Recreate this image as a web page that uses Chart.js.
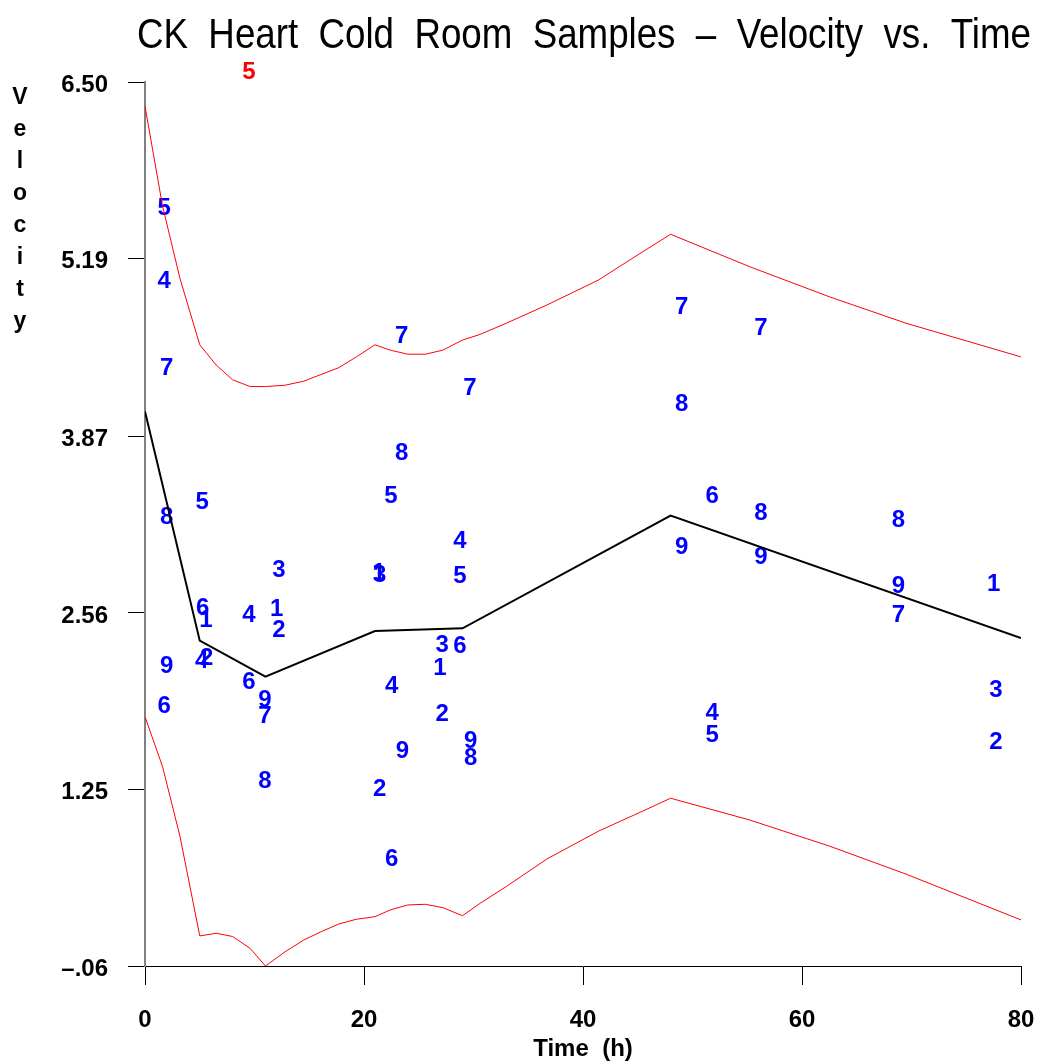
<!DOCTYPE html>
<html>
<head>
<meta charset="utf-8">
<title>CK Heart Cold Room Samples</title>
<script src="https://cdn.jsdelivr.net/npm/chart.js@4.4.1/dist/chart.umd.min.js"></script>
<style>
  html, body { margin: 0; padding: 0; background: #fff; }
  #wrap { width: 1039px; height: 1064px; }
</style>
</head>
<body>
<div id="wrap"><canvas id="velChart" width="1039" height="1064"></canvas></div>
<script>
// individual observations: subject id, sampling time (h), velocity
const subjects = [
  '5', '4', '7', '8', '9', '6',
  '5', '6', '1', '2', '4',
  '4', '6',
  '9', '7', '8',
  '3', '1', '2',
  '1', '3', '2',
  '5', '4', '6',
  '7', '8', '9',
  '3', '1', '2',
  '4', '5', '6',
  '7', '9', '8',
  '7', '8', '9',
  '6', '4', '5',
  '7', '8', '9',
  '8', '9', '7',
  '1', '3', '2'
];
const times = [
  1.74, 1.74, 1.98, 1.98, 1.98, 1.76,
  5.23, 5.26, 5.57, 5.63, 5.18,
  9.5, 9.5,
  10.96, 10.96, 10.96,
  12.24, 12.03, 12.24,
  21.36, 21.42, 21.42,
  22.47, 22.53, 22.53,
  23.44, 23.44, 23.5,
  27.15, 26.94, 27.15,
  28.77, 28.77, 28.77,
  29.68, 29.74, 29.74,
  49.0, 49.0, 49.0,
  51.8, 51.8, 51.8,
  56.26, 56.26, 56.26,
  68.8, 68.8, 68.8,
  77.5, 77.7, 77.7
];
const velocities = [
  5.565, 5.023, 4.375, 3.270, 2.161, 1.864,
  3.378, 2.594, 2.508, 2.224, 2.199,
  2.545, 2.043,
  1.914, 1.790, 1.308,
  2.879, 2.587, 2.428,
  2.856, 2.840, 1.251,
  3.428, 2.013, 0.734,
  4.610, 3.745, 1.531,
  2.322, 2.149, 1.810,
  3.089, 2.829, 2.310,
  4.227, 1.605, 1.481,
  4.824, 4.105, 3.046,
  3.423, 1.813, 1.654,
  4.673, 3.296, 2.969,
  3.248, 2.756, 2.543,
  2.770, 1.984, 1.597
];

// observation outside the limits
const flaggedSubjects = ['5'];
const flaggedTimes = [9.5];
const flaggedVelocities = [6.574];

// mean curve
const meanTimes = [0, 5, 11, 21, 29, 48, 80];
const meanVelocities = [4.055, 2.354, 2.087, 2.426, 2.446, 3.282, 2.374];

// upper / lower limit curves
const bandTimes = [0, 1.6, 3.2, 5, 6.5, 8, 9.6, 11, 12.8, 14.5, 16.1, 17.7, 19.3, 21,
  22.4, 24, 25.6, 27.2, 29, 30.6, 33, 36.7, 41.4, 45.2, 48, 55.2, 62.5, 69.5, 80];
const upperVelocities = [6.32, 5.58, 5.04, 4.55, 4.40, 4.29, 4.24, 4.24, 4.25, 4.28, 4.33, 4.38, 4.46, 4.55,
  4.51, 4.48, 4.48, 4.51, 4.585, 4.627, 4.71, 4.845, 5.03, 5.227, 5.37, 5.13, 4.906, 4.71, 4.46];
const lowerVelocities = [1.79, 1.42, 0.90, 0.163, 0.183, 0.159, 0.071, -0.06, 0.046, 0.133, 0.195, 0.252, 0.287, 0.306,
  0.356, 0.393, 0.398, 0.373, 0.313, 0.405, 0.53, 0.734, 0.94, 1.08, 1.185, 1.024, 0.83, 0.622, 0.282];

const xTicks = [0, 20, 40, 60, 80];
const yTicks = [-0.06, 1.25, 2.56, 3.87, 5.19, 6.50];
const yTickLabels = ['\u2013.06', '1.25', '2.56', '3.87', '5.19', '6.50'];

const FONT = '"Liberation Sans", Arial, Helvetica, sans-serif';
const titleText = 'CK  Heart  Cold  Room  Samples  \u2013  Velocity  vs.  Time';

const toPoints = (xs, ys) => xs.map((x, i) => ({ x: x, y: ys[i] }));

// draws each observation as its subject number
const digitMarks = {
  id: 'digitMarks',
  beforeDatasetsDraw(chart) {
    const ctx = chart.ctx;
    chart.data.datasets.forEach((ds, i) => {
      if (!ds.marks) return;
      const meta = chart.getDatasetMeta(i);
      ctx.save();
      ctx.font = 'bold 24px ' + FONT;
      ctx.fillStyle = ds.markColor;
      ctx.textAlign = 'center';
      ctx.textBaseline = 'middle';
      meta.data.forEach((pt, j) => ctx.fillText(ds.marks[j], pt.x, pt.y));
      ctx.restore();
    });
  }
};

// title and axis captions
const captions = {
  id: 'captions',
  afterDraw(chart) {
    const ctx = chart.ctx;
    const area = chart.chartArea;
    ctx.save();
    ctx.fillStyle = '#000';

    ctx.font = '42px ' + FONT;
    ctx.textAlign = 'left';
    ctx.textBaseline = 'alphabetic';
    const w = ctx.measureText(titleText).width;
    ctx.save();
    ctx.translate(137, 48);
    ctx.scale(894 / w, 1);
    ctx.fillText(titleText, 0, 0);
    ctx.restore();

    ctx.font = 'bold 23px ' + FONT;
    ctx.textAlign = 'center';
    ctx.textBaseline = 'middle';
    'Velocity'.split('').forEach((ch, i) => ctx.fillText(ch, 20, 98 + i * 32));

    ctx.font = 'bold 24px ' + FONT;
    ctx.fillText('Time  (h)', (area.left + area.right) / 2, 1049);
    ctx.restore();
  }
};

new Chart(document.getElementById('velChart'), {
  type: 'scatter',
  data: {
    datasets: [
      {
        data: toPoints(times, velocities),
        marks: subjects,
        markColor: '#0000ff',
        pointRadius: 0,
        showLine: false
      },
      {
        data: toPoints(flaggedTimes, flaggedVelocities),
        marks: flaggedSubjects,
        markColor: '#ff0000',
        pointRadius: 0,
        showLine: false,
        clip: false
      },
      {
        data: toPoints(bandTimes, upperVelocities),
        showLine: true,
        borderColor: '#ff0000',
        borderWidth: 1,
        pointRadius: 0,
        tension: 0
      },
      {
        data: toPoints(bandTimes, lowerVelocities),
        showLine: true,
        borderColor: '#ff0000',
        borderWidth: 1,
        pointRadius: 0,
        tension: 0
      },
      {
        data: toPoints(meanTimes, meanVelocities),
        showLine: true,
        borderColor: '#000000',
        borderWidth: 2,
        pointRadius: 0,
        tension: 0
      }
    ]
  },
  options: {
    responsive: false,
    animation: false,
    events: [],
    layout: { padding: { top: 82, right: 0, bottom: 0, left: 0 } },
    plugins: {
      legend: { display: false },
      tooltip: { enabled: false },
      title: { display: false }
    },
    scales: {
      x: {
        type: 'linear',
        min: 0,
        max: 80,
        afterFit: (axis) => {
          axis.height = 98;
          axis.paddingLeft = 0;
          axis.paddingRight = 18;
        },
        afterBuildTicks: (axis) => { axis.ticks = xTicks.map(v => ({ value: v })); },
        ticks: {
          color: '#000',
          padding: 21,
          font: { family: FONT, size: 24, weight: 'bold' }
        },
        grid: { drawOnChartArea: false, drawTicks: true, tickLength: 19, color: '#000', lineWidth: 1 },
        border: { display: true, color: '#000', width: 1 }
      },
      y: {
        type: 'linear',
        min: -0.06,
        max: 6.50,
        afterFit: (axis) => {
          axis.width = 145;
          axis.paddingTop = 0;
          axis.paddingBottom = 0;
        },
        afterBuildTicks: (axis) => { axis.ticks = yTicks.map(v => ({ value: v })); },
        ticks: {
          color: '#000',
          padding: 20,
          labelOffset: 3,
          font: { family: FONT, size: 24, weight: 'bold' },
          callback: (value) => yTickLabels[yTicks.indexOf(value)]
        },
        grid: { drawOnChartArea: false, drawTicks: true, tickLength: 17, color: '#000', lineWidth: 1 },
        border: { display: true, color: '#808080', width: 2 }
      }
    }
  },
  plugins: [digitMarks, captions]
});
</script>
</body>
</html>
